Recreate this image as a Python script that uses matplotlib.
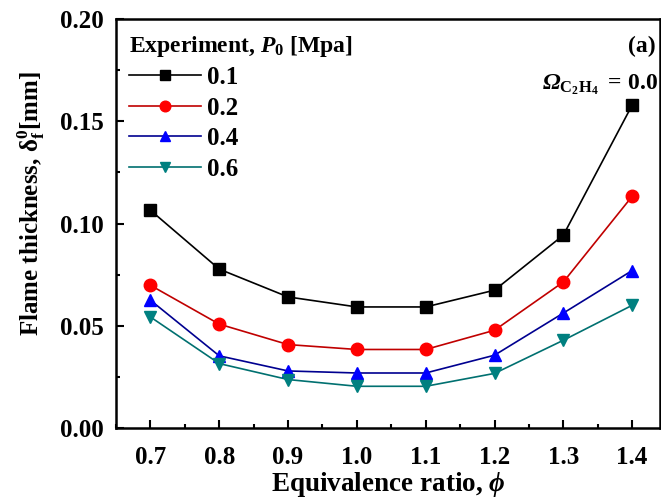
import matplotlib
matplotlib.use("Agg")
import matplotlib.pyplot as plt
from matplotlib.ticker import MultipleLocator

plt.rcParams['font.family'] = ['Liberation Serif', 'DejaVu Serif']
plt.rcParams['font.weight'] = 'bold'
plt.rcParams['mathtext.fontset'] = 'custom'
plt.rcParams['mathtext.rm'] = 'Liberation Serif:weight=bold'
plt.rcParams['mathtext.bf'] = 'Liberation Serif:weight=bold'
plt.rcParams['mathtext.it'] = 'Liberation Serif:style=italic:weight=bold'

phi = [0.7, 0.8, 0.9, 1.0, 1.1, 1.2, 1.3, 1.4]
p01 = [0.1065, 0.0777, 0.0641, 0.0592, 0.0592, 0.0674, 0.0943, 0.1579]
p02 = [0.0698, 0.0508, 0.0408, 0.0384, 0.0384, 0.0478, 0.0714, 0.1133]
p04 = [0.0625, 0.0353, 0.0279, 0.0269, 0.0269, 0.0356, 0.0562, 0.0770]
p06 = [0.0543, 0.0315, 0.0237, 0.0204, 0.0204, 0.0267, 0.0429, 0.0600]
labels = ['0.1', '0.2', '0.4', '0.6']

fig = plt.figure(figsize=(6.61, 5.01), dpi=100)
ax = fig.add_axes([0.1755, 0.1457, 0.8225, 0.8163])

styles = [('black', 's', 8), ('#ff0000', 'o', 9), ('#0000ff', '^', 9), ('#008080', 'v', 9)]
lcolors = ['black', '#c00000', '#000090', '#007070']
for ys, lab, (c, m, ms), lc in zip([p01, p02, p04, p06], labels, styles, lcolors):
    ax.plot(phi, ys, color=lc, lw=1.2, marker=m, markersize=ms,
            markerfacecolor=c, markeredgecolor=c, label=lab)

ax.set_xlim(0.65, 1.44)
ax.set_ylim(0.0, 0.20)
ax.xaxis.set_major_locator(MultipleLocator(0.1))
ax.xaxis.set_minor_locator(MultipleLocator(0.05))
ax.yaxis.set_major_locator(MultipleLocator(0.05))
ax.yaxis.set_minor_locator(MultipleLocator(0.025))
ax.tick_params(which='both', direction='in', top=False, right=False, width=1.5)
ax.tick_params(which='major', length=6, labelsize=18)
ax.tick_params(axis='y', which='major', pad=9)
ax.tick_params(axis='x', which='major', pad=13)
ax.tick_params(which='minor', length=3)
for s in ax.spines.values():
    s.set_linewidth(1.8)
for t in ax.get_xticklabels() + ax.get_yticklabels():
    t.set_fontweight('bold')

ax.set_xlabel(r'Equivalence ratio, $\mathit{\phi}$', fontsize=19.5, fontweight='bold', labelpad=1)
ax.set_ylabel(r'Flame thickness, δ$_\mathregular{f}^\mathregular{0}$[mm]', fontsize=18,
              fontweight='bold')
ax.yaxis.set_label_coords(-0.127, 0.55)

leg = ax.legend(loc='upper left', bbox_to_anchor=(0.0, 0.995), frameon=False, fontsize=18,
                title=r'Experiment, $\mathit{P}_0$ [Mpa]', title_fontsize=17,
                handlelength=2.9, handletextpad=0.25, labelspacing=0.3,
                borderaxespad=0.2, borderpad=0.3, alignment='left', markerscale=0.85)
for t in leg.get_texts():
    t.set_fontweight('bold')
leg.get_title().set_fontweight('bold')

ax.text(0.993, 0.96, '(a)', transform=ax.transAxes, ha='right', va='top',
        fontsize=17, fontweight='bold')
ax.text(0.997, 0.87, r'Ω$_{\mathrm{C_2H_4}}\mathrm{\ =\,0.0}$', transform=ax.transAxes,
        ha='right', va='top', fontsize=17, fontweight='bold', fontstyle='italic')

fig.savefig('out.png', dpi=100)
